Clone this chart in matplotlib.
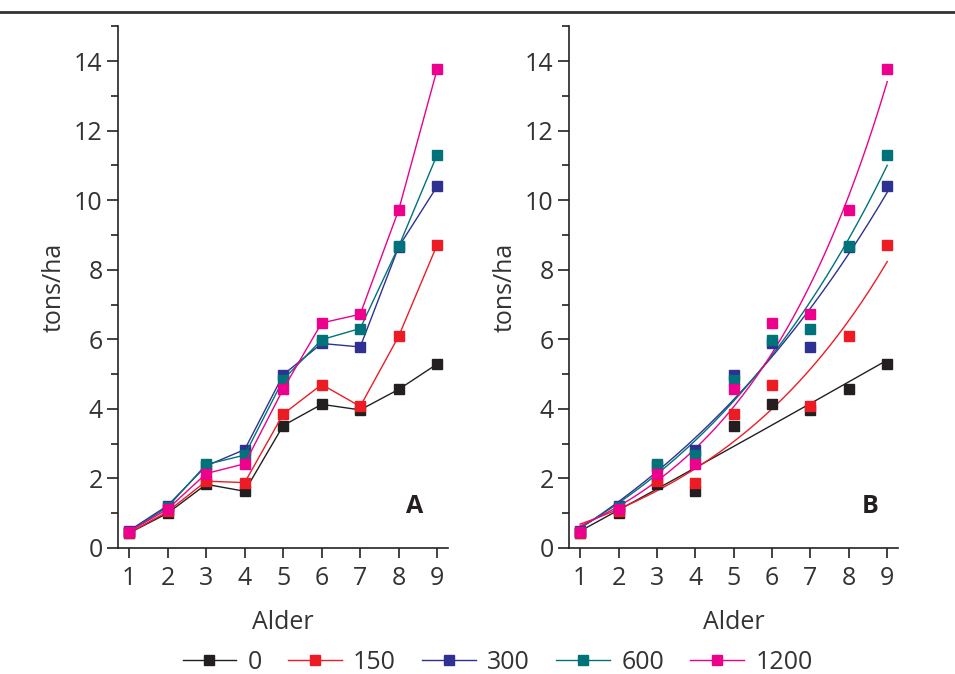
import numpy as np
import matplotlib
matplotlib.use("Agg")
import matplotlib.pyplot as plt
from matplotlib.lines import Line2D

plt.rcParams['font.family'] = ['Open Sans', 'DejaVu Sans']

# alder (år) og avling i tons/ha per behandling
alder = np.arange(1, 10)
avling_0 = [0.43, 1.00, 1.83, 1.63, 3.52, 4.13, 3.97, 4.56, 5.29]
avling_150 = [0.43, 1.05, 1.92, 1.88, 3.85, 4.70, 4.07, 6.09, 8.72]
avling_300 = [0.50, 1.22, 2.36, 2.83, 4.98, 5.88, 5.78, 8.66, 10.40]
avling_600 = [0.47, 1.18, 2.40, 2.67, 4.84, 5.99, 6.31, 8.67, 11.31]
avling_1200 = [0.47, 1.12, 2.14, 2.42, 4.57, 6.47, 6.72, 9.72, 13.77]

labels = ["0", "150", "300", "600", "1200"]
serier = [avling_0, avling_150, avling_300, avling_600, avling_1200]
farger = ["#231f20", "#ed1c24", "#2e3192", "#00727a", "#ec008c"]

TXT = "#333333"


def exp_fit(x, y):
    # y = c + a*exp(b*x), minste kvadrater; søker over b, løser c og a lineært
    x = np.asarray(x, float)
    y = np.asarray(y, float)
    best = None
    for b in np.linspace(0.005, 1.0, 2000):
        A = np.column_stack([np.ones_like(x), np.exp(b * x)])
        coef, *_ = np.linalg.lstsq(A, y, rcond=None)
        sse = np.sum((A @ coef - y) ** 2)
        if best is None or sse < best[0]:
            best = (sse, coef[0], coef[1], b)
    _, c, a, b = best
    return lambda t: c + a * np.exp(b * t)


def style_axes(ax, panel, px):
    ax.set_xlim(0.71, 9.28)
    ax.set_ylim(0, 15)
    ax.set_xticks(alder)
    ax.set_yticks(np.arange(0, 15, 2))
    ax.set_yticks(np.arange(1, 16, 2), minor=True)
    for side in ("top", "right"):
        ax.spines[side].set_visible(False)
    for side in ("left", "bottom"):
        ax.spines[side].set_linewidth(1.2)
        ax.spines[side].set_color("#222222")
    ax.tick_params(axis="y", which="major", length=8, width=1.2, color="#222222",
                   labelsize=18, labelcolor=TXT, pad=3)
    ax.tick_params(axis="y", which="minor", length=5, width=1.2, color="#222222")
    ax.tick_params(axis="x", length=7, width=1.2, color="#222222",
                   labelsize=18, labelcolor=TXT, pad=6)
    ax.set_xlabel("Alder", fontsize=18, color=TXT, labelpad=14)
    ax.set_ylabel("tons/ha", fontsize=18, color=TXT, labelpad=5)
    ax.text(px, 0.079, panel, transform=ax.transAxes, fontsize=18,
            fontweight="bold", color="#231f20", ha="center", va="center")


fig = plt.figure(figsize=(9.55, 6.74), dpi=100)
axA = fig.add_axes([0.1236, 0.187, 0.3455, 0.774])
axB = fig.add_axes([0.5958, 0.187, 0.3445, 0.774])

# A: målte verdier med rette linjer
for y, c in zip(serier, farger):
    axA.plot(alder, y, color=c, lw=1.0, marker="s", ms=7, mec=c, mfc=c)
style_axes(axA, "A", 0.90)

# B: eksponentialkurver tilpasset hver serie, pluss målte punkter
xs = np.linspace(1, 9, 200)
for y, c in zip(serier, farger):
    f = exp_fit(alder, y)
    axB.plot(xs, f(xs), color=c, lw=1.0)
for y, c in zip(serier, farger):
    axB.plot(alder, y, ls="none", marker="s", ms=7, mec=c, mfc=c)
style_axes(axB, "B", 0.915)

# linje øverst
fig.add_artist(Line2D([0, 1], [0.982, 0.982], transform=fig.transFigure,
                      color="#333333", lw=2.0))

handles = [Line2D([], [], color=c, lw=1.0, marker="s", ms=7, mec=c, mfc=c)
           for c in farger]
leg = fig.legend(handles, labels, loc="center", bbox_to_anchor=(0.521, 0.017),
                 ncol=5, frameon=False, fontsize=18, handlelength=2.15,
                 handletextpad=0.45, columnspacing=1.05)
for t in leg.get_texts():
    t.set_color(TXT)

fig.savefig("out.png", dpi=100)
